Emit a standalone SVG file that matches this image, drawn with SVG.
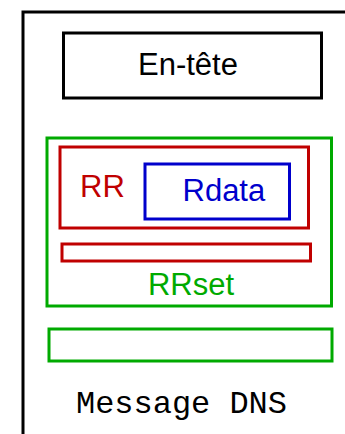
<svg xmlns="http://www.w3.org/2000/svg" width="345" height="434" viewBox="0 0 345 434">
  <style>
    .box { fill: none; stroke-width: 3; }
    .lbl { font-family: "Liberation Sans", Arial, sans-serif; font-size: 31px; }
    .black { stroke: #000000; }
    .green { stroke: #00aa00; }
    .red { stroke: #c00000; }
    .blue { stroke: #0000cc; }
  </style>
  <rect width="345" height="434" fill="#ffffff"/>
  <!-- DNS message frame -->
  <g id="message">
    <rect x="23" y="12" width="340" height="440" class="box black" stroke-width="4"/>
    <text x="76" y="413" font-family="Liberation Mono, 'Courier New', monospace" font-size="32" fill="#000000" textLength="211">Message DNS</text>
  </g>
  <g id="header">
    <rect x="63.5" y="33" width="258" height="65" class="box black"/>
    <text x="138" y="75" class="lbl" font-size="29" fill="#000000">En-tête</text>
  </g>
  <g id="rrset">
    <rect x="47" y="138" width="284.5" height="168" class="box green"/>
    <text x="191" y="295" class="lbl" text-anchor="middle" fill="#00aa00">RRset</text>
  </g>
  <g id="rr">
    <rect x="60" y="147" width="248.5" height="81" class="box red"/>
    <text x="80" y="197" class="lbl" fill="#c00000">RR</text>
  </g>
  <g id="rdata">
    <rect x="145" y="164" width="144.5" height="55" class="box blue"/>
    <text x="182.5" y="201" class="lbl" fill="#0000cc">Rdata</text>
  </g>
  <g id="rr2">
    <rect x="62" y="244" width="248.5" height="17" class="box red"/>
  </g>
  <g id="section">
    <rect x="49" y="329" width="283" height="32" class="box green"/>
  </g>
</svg>
